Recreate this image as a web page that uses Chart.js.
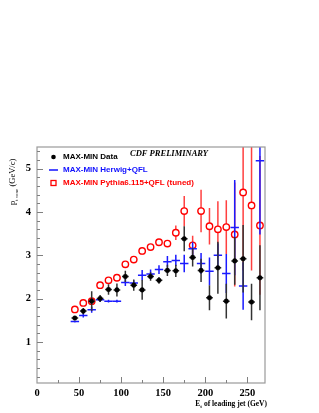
<!DOCTYPE html>
<html>
<head>
<meta charset="utf-8">
<script src="https://cdn.jsdelivr.net/npm/chart.js@4.4.1/dist/chart.umd.min.js"></script>
<style>
  html, body { margin: 0; padding: 0; background: #fff; }
  #wrap { width: 319px; height: 413px; }
</style>
</head>
<body>
<div id="wrap"><canvas id="c" width="319" height="413"></canvas></div>
<script>
// bin centres, leading-jet Et (GeV)
const ptBins = [45, 55, 65, 75, 85, 95, 105, 115, 125, 135, 145, 155, 165, 175, 185, 195, 205, 215, 225, 235, 245, 255, 265];

// MAX-MIN Data
const dataMean = [1.55, 1.71, 1.94, 2.00, 2.21, 2.20, 2.51, 2.31, 2.20, 2.51, 2.42, 2.65, 2.64, 3.38, 2.95, 2.65, 2.02, 2.71, 1.94, 2.87, 2.92, 1.92, 2.48];
const dataErr  = [0.05, 0.07, 0.23, 0.08, 0.12, 0.15, 0.13, 0.13, 0.23, 0.10, 0.08, 0.13, 0.14, 0.29, 0.21, 0.27, 0.29, 0.60, 0.40, 0.55, 0.78, 0.42, 0.75];

// MAX-MIN Herwig+QFL (no entry in the 255 bin)
const herwigMean = [1.47, 1.61, 1.74, 1.97, 1.94, 1.94, 2.37, 2.36, 2.54, 2.57, 2.67, 2.85, 2.88, 2.81, 3.15, 2.81, 2.63, 3.00, 2.58, 3.64, 2.29, null, 5.18];
const herwigErr  = [0.02, 0.05, 0.07, 0.05, 0.03, 0.03, 0.08, 0.06, 0.12, 0.10, 0.10, 0.13, 0.13, 0.20, 0.15, 0.24, 0.32, 0.27, 0.45, 1.10, 0.55, null, 1.70];

// MAX-MIN Pythia6.115+QFL (tuned)
const pythiaMean = [1.75, 1.90, 1.94, 2.31, 2.42, 2.48, 2.79, 2.90, 3.10, 3.19, 3.30, 3.27, 3.52, 4.02, 3.23, 4.02, 3.67, 3.60, 3.65, 3.48, 4.45, 4.15, 3.69];
const pythiaErr  = [0.03, 0.04, 0.05, 0.05, 0.06, 0.07, 0.05, 0.05, 0.08, 0.06, 0.07, 0.08, 0.17, 0.35, 0.22, 0.49, 0.42, 0.65, 0.62, 1.20, 1.80, 1.50, 1.60];

const yMajorTicks = [1, 2, 3, 4, 5];
const xMajorTicks = [0, 50, 100, 150, 200, 250];

const legendItems = [
  { text: 'MAX-MIN Data', color: '#000000', marker: 'dot' },
  { text: 'MAX-MIN Herwig+QFL', color: '#1010ff', marker: 'line' },
  { text: 'MAX-MIN Pythia6.115+QFL (tuned)', color: '#ff0000', marker: 'square' }
];

function points(mean, err) {
  return ptBins.map((x, i) => ({ x, y: mean[i], err: err[i] }));
}

const SERIF = '"Liberation Serif", "DejaVu Serif", serif';
const SANS = '"Liberation Sans", Arial, sans-serif';

// error bars for each dataset, drawn just under its own markers
const errorBars = {
  id: 'errorBars',
  beforeDatasetDraw(chart, args) {
    const ds = chart.data.datasets[args.index];
    const xs = chart.scales.x, ys = chart.scales.y;
    const area = chart.chartArea;
    const ctx = chart.ctx;
    ctx.save();
    ctx.beginPath();
    ctx.rect(area.left, area.top, area.right - area.left, area.bottom - area.top);
    ctx.clip();
    ctx.strokeStyle = ds.errColor;
    ctx.lineWidth = ds.errWidth;
    ds.data.forEach(p => {
      if (p.y == null) return;
      const px = xs.getPixelForValue(p.x);
      const py = ys.getPixelForValue(p.y);
      ctx.beginPath();
      ctx.moveTo(px, ys.getPixelForValue(p.y + p.err));
      ctx.lineTo(px, ys.getPixelForValue(p.y - p.err));
      ctx.moveTo(xs.getPixelForValue(p.x - ds.halfWidth), py);
      ctx.lineTo(xs.getPixelForValue(p.x + ds.halfWidth), py);
      ctx.stroke();
    });
    ctx.restore();
  }
};

// frame, inward ticks, titles, legend and the preliminary label
const decorations = {
  id: 'decorations',
  afterDraw(chart) {
    const ctx = chart.ctx;
    const xs = chart.scales.x, ys = chart.scales.y;
    const a = chart.chartArea;
    ctx.save();

    ctx.strokeStyle = '#9a9a9a';
    ctx.lineWidth = 1.2;
    ctx.strokeRect(a.left, a.top, a.right - a.left, a.bottom - a.top);

    ctx.strokeStyle = '#808080';
    ctx.lineWidth = 1;
    ctx.beginPath();
    for (let v = 0.2; v < 5.5; v += 0.2) {
      const major = Math.abs(v - Math.round(v)) < 0.01;
      const py = Math.round(ys.getPixelForValue(v)) + 0.5;
      ctx.moveTo(a.left, py);
      ctx.lineTo(a.left + (major ? 6 : 3), py);
    }
    for (let v = 25; v < 270; v += 25) {
      const major = v % 50 === 0;
      const px = Math.round(xs.getPixelForValue(v)) + 0.5;
      ctx.moveTo(px, a.bottom);
      ctx.lineTo(px, a.bottom - (major ? 6 : 3));
    }
    ctx.stroke();

    // x title with subscript
    ctx.fillStyle = '#000';
    ctx.textBaseline = 'alphabetic';
    const xMain = 'bold 7.5px ' + SERIF, xSub = 'bold 5px ' + SERIF;
    ctx.font = xMain;
    const rest = ' of leading jet (GeV)';
    const wE = ctx.measureText('E').width, wRest = ctx.measureText(rest).width;
    ctx.font = xSub;
    const wT = ctx.measureText('t').width;
    let tx = a.right + 2 - (wE + wT + wRest);
    const ty = 406;
    ctx.font = xMain; ctx.fillText('E', tx, ty); tx += wE;
    ctx.font = xSub; ctx.fillText('t', tx, ty + 2); tx += wT;
    ctx.font = xMain; ctx.fillText(rest, tx, ty);

    // y title, rotated
    ctx.save();
    ctx.translate(15, 205);
    ctx.rotate(-Math.PI / 2);
    const yMain = '8.5px ' + SERIF, ySub = '5px ' + SERIF;
    let yx = 0;
    ctx.font = yMain; ctx.fillText('p', yx, 0); yx += ctx.measureText('p').width;
    ctx.font = ySub; ctx.fillText('t cone', yx, 2.5); yx += ctx.measureText('t cone').width;
    ctx.font = yMain; ctx.fillText(' (GeV/c)', yx, 0);
    ctx.restore();

    // preliminary label
    ctx.font = 'italic bold 8.5px ' + SERIF;
    ctx.fillStyle = '#000';
    ctx.textBaseline = 'middle';
    ctx.fillText('CDF PRELIMINARY', 130, 153.5);

    // legend
    ctx.font = 'bold 8px ' + SANS;
    legendItems.forEach((item, i) => {
      const ly = 157 + i * 13;
      ctx.fillStyle = item.color;
      ctx.strokeStyle = item.color;
      if (item.marker === 'dot') {
        ctx.beginPath(); ctx.arc(53.5, ly, 2.3, 0, Math.PI * 2); ctx.fill();
      } else if (item.marker === 'line') {
        ctx.lineWidth = 1.5;
        ctx.beginPath(); ctx.moveTo(49, ly); ctx.lineTo(58, ly); ctx.stroke();
      } else {
        ctx.lineWidth = 1.3;
        ctx.strokeRect(51, ly - 2.5, 5, 5);
      }
      ctx.fillText(item.text, 63, ly);
    });

    ctx.restore();
  }
};

const chart = new Chart(document.getElementById('c').getContext('2d'), {
  type: 'scatter',
  data: {
    datasets: [
      {
        label: 'MAX-MIN Data',
        data: points(dataMean, dataErr),
        order: 1,
        pointRadius: 2.3,
        pointBackgroundColor: '#000',
        pointBorderColor: '#000',
        pointBorderWidth: 0.5,
        errColor: '#333333', errWidth: 1.5, halfWidth: 4
      },
      {
        label: 'MAX-MIN Herwig+QFL',
        data: points(herwigMean, herwigErr),
        order: 2,
        pointRadius: 0,
        errColor: '#1a1aff', errWidth: 1.5, halfWidth: 5
      },
      {
        label: 'MAX-MIN Pythia6.115+QFL (tuned)',
        data: points(pythiaMean, pythiaErr),
        order: 3,
        pointRadius: 3.2,
        pointBackgroundColor: '#fff',
        pointBorderColor: '#ff0000',
        pointBorderWidth: 1.4,
        errColor: 'rgba(255,30,30,0.85)', errWidth: 1.5, halfWidth: 4
      }
    ]
  },
  options: {
    responsive: false,
    animation: false,
    events: [],
    layout: { padding: { top: 147, right: 54, left: 0, bottom: 0 } },
    plugins: { legend: { display: false }, tooltip: { enabled: false } },
    scales: {
      x: {
        type: 'linear',
        min: 0, max: 271,
        afterFit: s => { s.height = 30; },
        afterBuildTicks: s => { s.ticks = xMajorTicks.map(v => ({ value: v })); },
        grid: { display: false, drawTicks: false },
        border: { display: false },
        ticks: { padding: 4, color: '#000', font: { family: SERIF, size: 10.5, weight: 'bold' }, maxRotation: 0 }
      },
      y: {
        type: 'linear',
        min: 0.05, max: 5.5,
        afterFit: s => { s.width = 37; },
        afterBuildTicks: s => { s.ticks = yMajorTicks.map(v => ({ value: v })); },
        grid: { display: false, drawTicks: false },
        border: { display: false },
        ticks: { padding: 6, color: '#000', font: { family: SERIF, size: 10.5, weight: 'bold' } }
      }
    }
  },
  plugins: [errorBars, decorations]
});
</script>
</body>
</html>
